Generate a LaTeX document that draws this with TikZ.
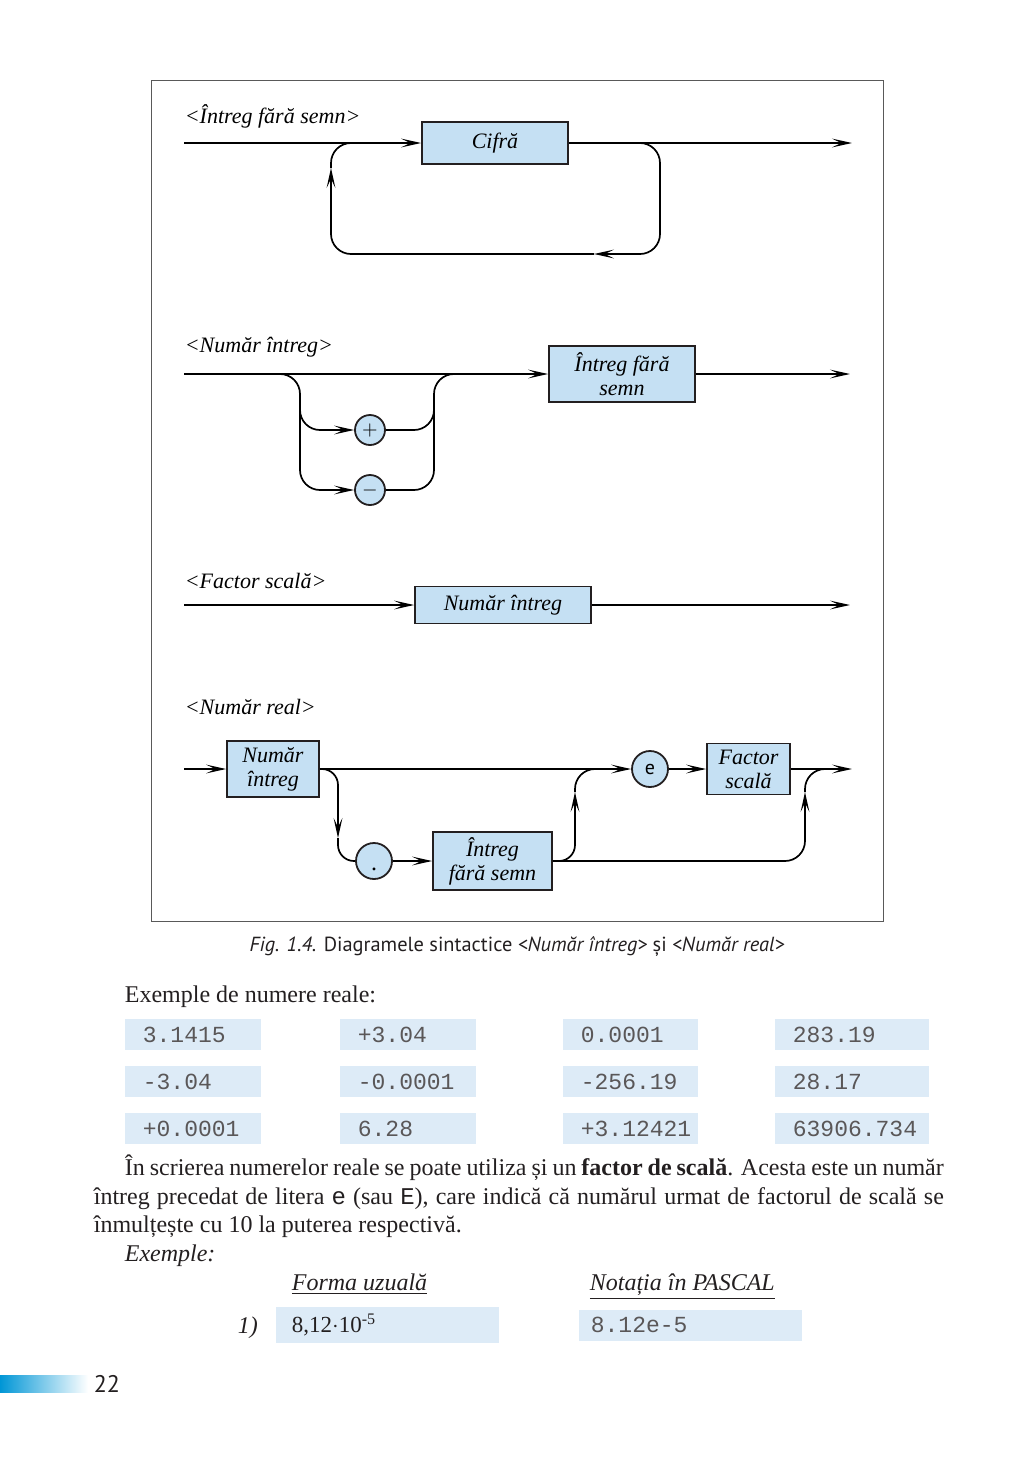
\documentclass[tikz,border=0pt]{standalone}
\usepackage{fontspec}
\setmainfont{Liberation Serif}
\setsansfont{PT Sans}
\setmonofont{Liberation Mono}
\usetikzlibrary{arrows.meta}
\definecolor{boxblue}{RGB}{197,224,243}
\definecolor{numblue}{RGB}{221,235,247}
\definecolor{barblue}{RGB}{0,150,214}
\definecolor{ink}{RGB}{35,31,32}
\tikzset{
	>={Stealth[length=10pt,width=4.4pt,inset=4.6pt]},
	arr/.style={->},
	rc/.style={rounded corners=10pt},
	box/.style={draw=ink,line width=0.9pt,fill=boxblue,inner sep=0pt,align=center,font=\itshape\fontsize{11}{12}\selectfont},
	term/.style={circle,draw=ink,line width=0.9pt,fill=boxblue,inner sep=0pt,font=\sffamily\fontsize{10}{10}\selectfont},
	title/.style={anchor=base west,inner sep=0pt,font=\itshape\fontsize{11}{13}\selectfont},
	numbox/.style={fill=numblue,anchor=west,minimum height=15.5pt,inner xsep=9pt,align=left,font=\ttfamily\fontsize{11.5}{12}\selectfont,text=ink!75},
	body/.style={anchor=base west,inner sep=0pt,font=\fontsize{12}{14}\selectfont,text=ink},
	ibody/.style={anchor=base west,inner sep=0pt,font=\itshape\fontsize{12}{14}\selectfont,text=ink}
}

\begin{document}
\begin{tikzpicture}[x=0.5pt,y=-0.5pt,line width=0.85pt]
	\useasboundingbox (0,0) rectangle (1024,1458);
	\draw[black!65,line width=0.5pt] (151,80) rectangle (883,921);

	\node[title] (t1) at (184,123) {<Întreg fără semn>};
	\node[box,minimum width=73pt,minimum height=21pt] (cifra) at (495,143) {Cifră};
	\coordinate (s1) at (184,143);
	\coordinate (e1) at (852,143);
	\coordinate (j1a) at (620,143);
	\coordinate (j1b) at (660,254);
	\coordinate (j1c) at (594,254);
	\coordinate (j1d) at (331,168);
	\coordinate (j1e) at (371,143);
	\draw[arr] (s1) -- (cifra.west);
	\draw[arr] (cifra.east) -- (e1);
	\draw[arr,rc] (j1a) -| (j1b) -- (j1c);
	\draw[arr,rc] (j1c) -| (j1d);
	\draw[rc] (j1d) |- (j1e);

	\node[title] (t2) at (184,352) {<Număr întreg>};
	\node[box,minimum width=73pt,minimum height=28pt] (ifs) at (622,374) {Întreg fără\\semn};
	\node[term,minimum size=15pt] (plus) at (370,430) {$+$};
	\node[term,minimum size=15pt] (minus) at (370,490) {$-$};
	\coordinate (s2) at (184,374);
	\coordinate (e2) at (850,374);
	\coordinate (j2a) at (270,374);
	\coordinate (j2b) at (300,405);
	\coordinate (j2c) at (434,405);
	\coordinate (j2d) at (464,374);
	\coordinate (j2f) at (300,490);
	\coordinate (j2g) at (434,374);
	\draw[arr] (s2) -- (ifs.west);
	\draw[arr] (ifs.east) -- (e2);
	\draw[arr,rc] (j2a) -| (j2f) -- (minus.west);
	\draw[arr,rc] (j2b) |- (plus.west);
	\draw[rc] (minus.east) -| (j2g) -- (j2d);
	\draw[rc] (plus.east) -| (j2c);

	\node[title] (t3) at (184,588) {<Factor scală>};
	\node[box,minimum width=88pt,minimum height=18.5pt] (ni) at (503,605) {Număr întreg};
	\coordinate (s3) at (184,605);
	\coordinate (e3) at (850,605);
	\draw[arr] (s3) -- (ni.west);
	\draw[arr] (ni.east) -- (e3);

	\node[title] (t4) at (184,714) {<Număr real>};
	\node[box,minimum width=46pt,minimum height=28pt] (nr) at (273,769) {Număr\\întreg};
	\node[term,minimum size=18pt] (ee) at (650,769) {e};
	\node[box,minimum width=41.5pt,minimum height=25.5pt] (fs) at (748.5,769) {Factor\\scală};
	\node[term,minimum size=18pt,font=\fontsize{12}{12}\selectfont] (dot) at (374,861) {\rule{0pt}{10pt}.};
	\node[box,minimum width=59.5pt,minimum height=29pt] (ifs2) at (492.5,861) {Întreg\\fără semn};
	\coordinate (s4) at (184,769);
	\coordinate (e4) at (852,769);
	\coordinate (j4a) at (338,838);
	\coordinate (j4b) at (575,792);
	\coordinate (j4c) at (615,769);
	\coordinate (j4d) at (805,792);
	\coordinate (j4e) at (845,769);
	\draw[arr] (s4) -- (nr.west);
	\draw[arr] (nr.east) -- (ee.west);
	\draw[arr] (ee.east) -- (fs.west);
	\draw[arr] (fs.east) -- (e4);
	\draw[arr,rounded corners=8pt] (nr.east) -| (j4a);
	\draw[rounded corners=8pt] (j4a) |- (dot.west);
	\draw[arr] (dot.east) -- (ifs2.west);
	\draw[arr,rounded corners=8pt] (ifs2.east) -| (j4b);
	\draw[rc] (j4b) |- (j4c);
	\draw[arr,rc] (ifs2.east) -| (j4d);
	\draw[rc] (j4d) |- (j4e);

	\node[font=\sffamily\fontsize{10.2}{12}\selectfont,text=ink] (cap) at (517,947) {\textit{Fig. 1.4.} Diagramele sintactice \textit{<Număr întreg>} și \textit{<Număr real>}};

	\node[body] (ex1) at (124,1002) {Exemple de numere reale:};
	\foreach \a/\b/\c/\d [count=\r] in {3.1415/+3.04/0.0001/283.19,-3.04/-0.0001/-256.19/28.17,+0.0001/6.28/+3.12421/63906.734}{
		\pgfmathsetmacro\yy{1034.5+47*(\r-1)}
		\node[numbox,text width=50pt] (n\r a) at (124,\yy) {\a};
		\node[numbox,text width=50pt] (n\r b) at (339,\yy) {\b};
		\node[numbox,text width=49.5pt] (n\r c) at (562,\yy) {\c};
		\node[numbox,text width=59pt] (n\r d) at (774,\yy) {\d};
	}

	\node[body] (par1) at (124,1175) {\makebox[409.5pt][s]{În scrierea numerelor reale se poate utiliza și un \textbf{factor de scală}. Acesta este un număr}};
	\node[body] (par2) at (93,1204) {\makebox[425pt][s]{întreg precedat de litera \texttt{e} (sau \texttt{E}), care indică că numărul urmat de factorul de scală se}};
	\node[body] (par3) at (93,1232) {înmulțește cu 10 la puterea respectivă.};
	\node[ibody] (ex2) at (124,1261) {Exemple:};
	\node[ibody] (h1) at (291,1290) {\underline{Forma uzuală}};
	\node[ibody] (h2) at (589,1290) {\underline{Notația în PASCAL}};
	\node[ibody] (k1) at (237,1333) {1)};
	\node[numbox,text width=95.5pt,inner xsep=8pt,font=\fontsize{11.5}{12}\selectfont,text=ink] (f1) at (275,1325) {8,12$\cdot$10\textsuperscript{-5}};
	\node[numbox,text width=99.5pt,inner xsep=6pt] (f2) at (578,1325) {8.12e-5};

	\shade[left color=barblue,right color=white] (0,1375) rectangle (88,1392);
	\node[anchor=west,inner sep=0pt,font=\sffamily\fontsize{12}{12}\selectfont,text=ink] (pg) at (93,1384) {22};
\end{tikzpicture}
\end{document}
